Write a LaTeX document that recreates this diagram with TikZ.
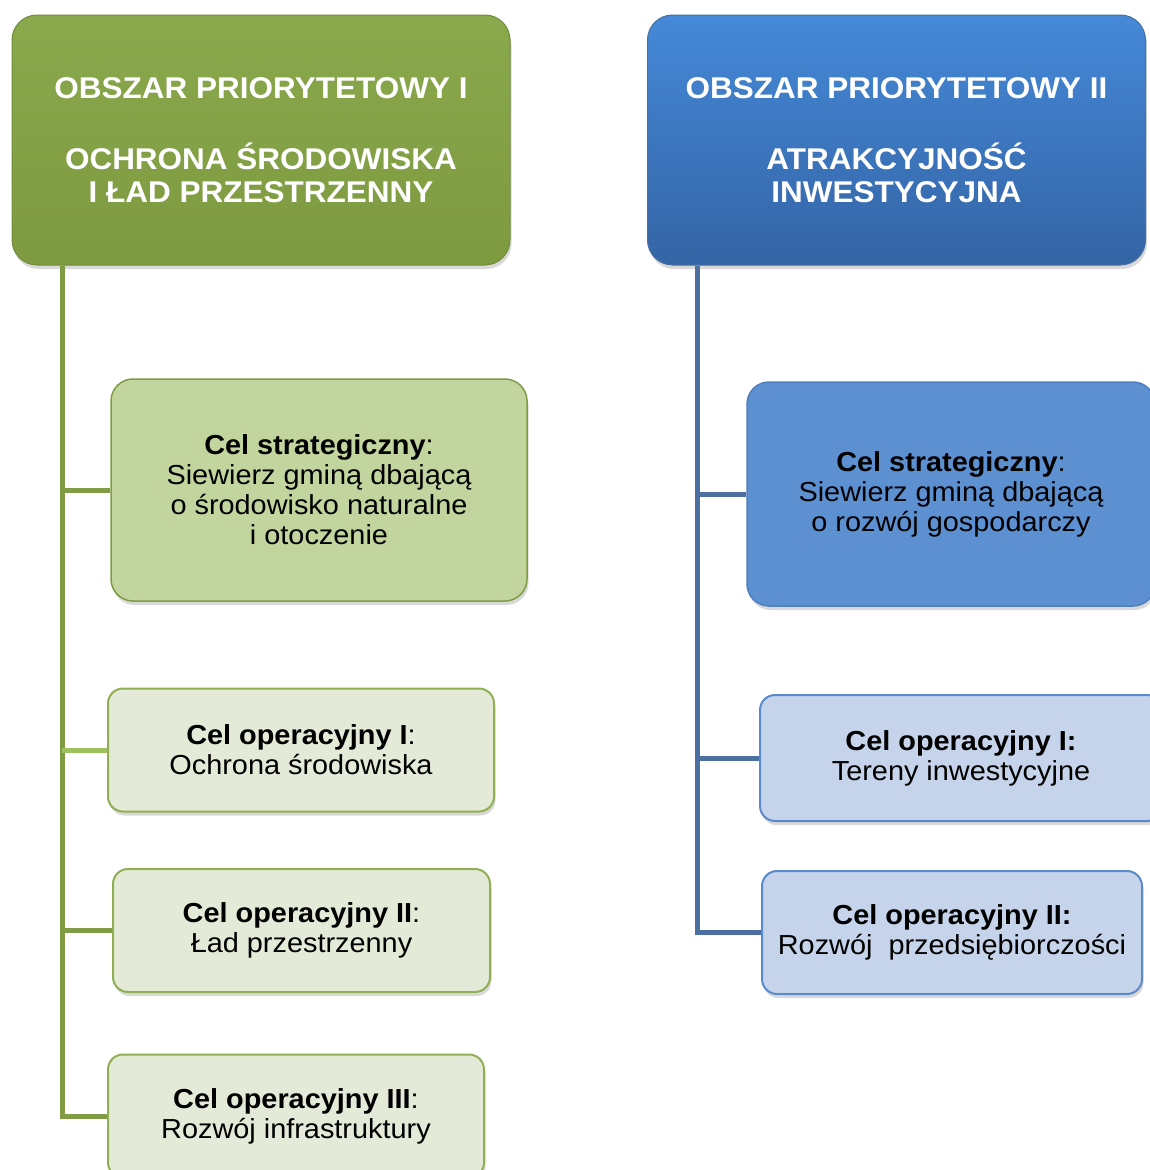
\documentclass[tikz,border=0pt]{standalone}
\usepackage{fontspec}
\setmainfont[FakeStretch=1.05]{Liberation Sans}
\usetikzlibrary{shadows}
\definecolor{grnDark}{HTML}{7F9C44}
\definecolor{grnHdrTop}{HTML}{8AA84C}
\definecolor{grnHdrBot}{HTML}{7D9A40}
\definecolor{grnMid}{HTML}{C3D59E}
\definecolor{grnLight}{HTML}{E4EAD8}
\definecolor{grnLine}{HTML}{8FAF52}
\definecolor{grnBranch}{HTML}{9FC05F}
\definecolor{bluDark}{HTML}{4A6FA0}
\definecolor{bluHdrTop}{HTML}{4589D8}
\definecolor{bluHdrBot}{HTML}{3464A5}
\definecolor{bluMid}{HTML}{5D90D0}
\definecolor{bluMidLine}{HTML}{4F7FBE}
\definecolor{bluLight}{HTML}{C5D4EA}
\definecolor{bluLine}{HTML}{5B8ACB}
\tikzset{
  box/.style={rounded corners=15pt, align=center, inner sep=0pt,
    font=\fontsize{27.5}{30}\selectfont,
    drop shadow={shadow xshift=1.5pt, shadow yshift=-4pt, opacity=0.3}},
  hdrbox/.style={box, rounded corners=25pt, text=white,
    minimum width=498pt, minimum height=250pt,
    font=\fontsize{30}{33}\selectfont\bfseries},
  stratbox/.style={box, rounded corners=22pt, line width=1.5pt},
  opbox/.style={box, line width=2pt, minimum height=123pt},
  trunk/.style={line width=5pt}
}
\begin{document}
\begin{tikzpicture}[x=1pt,y=-1pt]
  \useasboundingbox (0,0) rectangle (1150,1170);
  % obszar I
  \node[hdrbox, top color=grnHdrTop, bottom color=grnHdrBot, draw=grnDark!90!black, line width=1pt]
    (hdrA) at (261,140) {OBSZAR PRIORYTETOWY I\\[38pt]OCHRONA ŚRODOWISKA\\I ŁAD PRZESTRZENNY};
  \node[stratbox, fill=grnMid, draw=grnDark, minimum width=416pt, minimum height=222pt]
    (stratA) at (319,490) {\textbf{Cel strategiczny}:\\Siewierz gminą dbającą\\o środowisko naturalne\\i otoczenie};
  \node[opbox, fill=grnLight, draw=grnLine, minimum width=386pt]
    (opA1) at (301,750) {\textbf{Cel operacyjny I}:\\Ochrona środowiska};
  \node[opbox, fill=grnLight, draw=grnLine, minimum width=377pt]
    (opA2) at (301.5,930.5) {\textbf{Cel operacyjny II}:\\Ład przestrzenny};
  \node[opbox, fill=grnLight, draw=grnLine, minimum width=376pt]
    (opA3) at (296,1116) {\textbf{Cel operacyjny III}:\\Rozwój infrastruktury};
  % obszar II
  \node[hdrbox, top color=bluHdrTop, bottom color=bluHdrBot, draw=bluDark, line width=1pt]
    (hdrB) at (896.5,140) {OBSZAR PRIORYTETOWY II\\[38pt]ATRAKCYJNOŚĆ\\INWESTYCYJNA};
  \node[stratbox, fill=bluMid, draw=bluMidLine, minimum width=408pt, minimum height=224pt]
    (stratB) at (951,494) {\textbf{Cel strategiczny}:\\Siewierz gminą dbającą\\o rozwój gospodarczy};
  \node[opbox, fill=bluLight, draw=bluLine, minimum width=402pt, minimum height=126pt]
    (opB1) at (961,758) {\textbf{Cel operacyjny I:}\\Tereny inwestycyjne};
  \node[opbox, fill=bluLight, draw=bluLine, minimum width=380pt]
    (opB2) at (952,932.5) {\textbf{Cel operacyjny II:}\\Rozwój\ \ przedsiębiorczości};
  % connectors
  \coordinate (trunkA) at (62,0);
  \coordinate (trunkB) at (697,0);
  \draw[trunk, grnDark] (trunkA |- hdrA.south) -- (trunkA |- opA3.west) -- (opA3.west);
  \draw[trunk, grnDark] (trunkA |- stratA.west) -- (stratA.west);
  \draw[trunk, grnBranch] (trunkA |- opA1.west) -- (opA1.west);
  \draw[trunk, grnDark] (trunkA |- opA2.west) -- (opA2.west);
  \draw[trunk, bluDark] (trunkB |- hdrB.south) -- (trunkB |- opB2.west) -- (opB2.west);
  \draw[trunk, bluDark] (trunkB |- stratB.west) -- (stratB.west);
  \draw[trunk, bluDark] (trunkB |- opB1.west) -- (opB1.west);
\end{tikzpicture}
\end{document}
